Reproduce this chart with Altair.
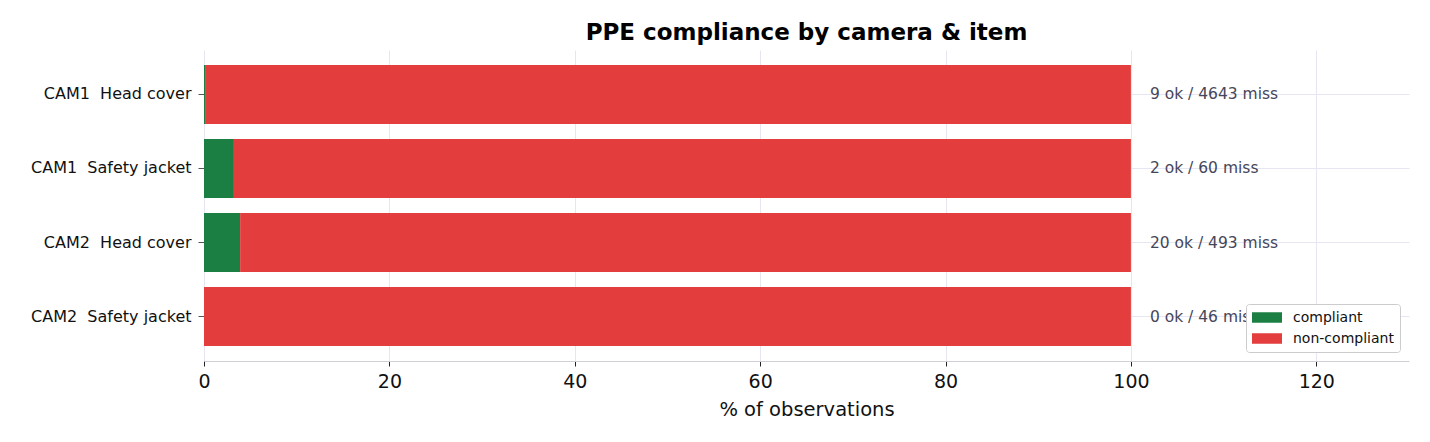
import altair as alt
import pandas as pd

rows = ["CAM1\u00a0 Head cover", "CAM1\u00a0 Safety jacket", "CAM2\u00a0 Head cover", "CAM2\u00a0 Safety jacket"]
ok_counts = [9, 2, 20, 0]
miss_counts = [4643, 60, 493, 46]
statuses = ["compliant", "non-compliant"]
colors = ["#1b7f44", "#e33d3d"]
x_ticks = [0, 20, 40, 60, 80, 100, 120]

recs = []
for r, ok, miss in zip(rows, ok_counts, miss_counts):
    tot = ok + miss
    recs.append({"row": r, "status": statuses[0], "pct": 100 * ok / tot, "order": 0})
    recs.append({"row": r, "status": statuses[1], "pct": 100 * miss / tot, "order": 1})
bars_df = pd.DataFrame(recs)
lab_df = pd.DataFrame({
    "row": rows,
    "label": [f"{o} ok / {m} miss" for o, m in zip(ok_counts, miss_counts)],
    "pos": [100] * len(rows),
})

FONT = "DejaVu Sans"

y_enc = alt.Y("row:N", sort=rows, title=None,
              scale=alt.Scale(paddingInner=0.2, paddingOuter=0.2),
              axis=alt.Axis(labelFontSize=16, labelColor="#111111", labelFont=FONT,
                            tickColor="#555555", tickSize=6, labelPadding=7,
                            domain=False, grid=True, gridColor="#e6e6f2",
                            bandPosition=0.5, labelLimit=400))

bars = alt.Chart(bars_df).mark_bar(size=59).encode(
    y=y_enc,
    x=alt.X("pct:Q", stack="zero", title="% of observations",
            scale=alt.Scale(domain=[0, 130], nice=False),
            axis=alt.Axis(values=x_ticks, labelFontSize=19, titleFontSize=19.5,
                          titleFontWeight="normal", labelFont=FONT, titleFont=FONT,
                          labelColor="#111111", titleColor="#111111",
                          tickColor="#222222", tickSize=5, labelPadding=6,
                          labelFlush=False,
                          titlePadding=9, domainColor="#cfcfd8", gridColor="#e6e6f2")),
    color=alt.Color("status:N", scale=alt.Scale(domain=statuses, range=colors),
                    legend=alt.Legend(title=None, orient="bottom-right", offset=9,
                                      labelFontSize=14, labelFont=FONT, labelColor="#111111",
                                      symbolType="M-1,-0.7H3V0.7H-1Z", symbolSize=225,
                                      symbolStrokeWidth=0, symbolOpacity=1,
                                      labelOffset=26,
                                      strokeColor="#cccccc", fillColor="white",
                                      cornerRadius=3, padding=6, rowPadding=6)),
    order=alt.Order("order:Q"),
)

labels = alt.Chart(lab_df).mark_text(align="left", baseline="middle", dx=19,
                                     fontSize=15.5, font=FONT, color="#464659").encode(
    y=alt.Y("row:N", sort=rows),
    x=alt.X("pos:Q"),
    text="label:N",
)

chart = alt.layer(bars, labels).properties(
    width=1205, height=311,
    title=alt.Title("PPE compliance by camera & item", fontSize=23, font=FONT,
                    fontWeight="bold", color="#000000", anchor="middle", offset=5),
    padding={"left": 22, "right": 5, "top": 14, "bottom": 5},
).configure_view(stroke=None).configure_axis(labelFont=FONT)

chart.save("out.html", embed_options={"renderer": "svg", "actions": False})
